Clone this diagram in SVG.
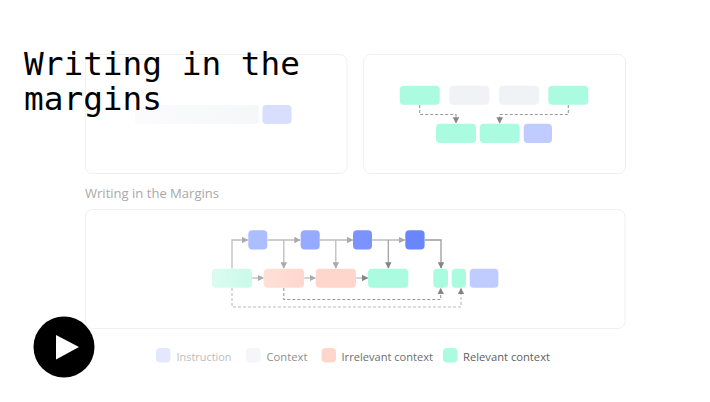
<svg xmlns="http://www.w3.org/2000/svg" width="710" height="402" viewBox="0 0 710 402">
<style>
.panel{fill:#fff;stroke:#f0f0f2;stroke-width:1}
.n{stroke:none}
.grn{fill:#abfbe0}.gry{fill:#f1f2f6}.per{fill:#c0ccff}
.c{fill:none;stroke-width:1.300}
.s{stroke:#bdbdbd}
.d{stroke:#9a9a9a;stroke-dasharray:3 2;stroke-width:1.100}
.d2{stroke:#bcbcbc;stroke-dasharray:3 2;stroke-width:1.100}
.lab{font-family:"Open Sans","Noto Sans",sans-serif;font-size:11px}
.title{font-family:"DejaVu Sans Mono","Liberation Mono",monospace;font-size:32px;fill:#000}
</style>
<defs>
<marker id="a" viewBox="0 0 8 8" refX="7" refY="4" markerWidth="6.500" markerHeight="6.500" markerUnits="userSpaceOnUse" orient="auto"><path d="M0 0L8 4L0 8Z" fill="#ababab"/></marker>
<marker id="b" viewBox="0 0 8 8" refX="7" refY="4" markerWidth="6.500" markerHeight="6.500" markerUnits="userSpaceOnUse" orient="auto"><path d="M0 0L8 4L0 8Z" fill="#858585"/></marker>
<linearGradient id="gc" x1="0" x2="1" y1="0" y2="0"><stop offset="0" stop-color="#fbfbfd"/><stop offset="1" stop-color="#f6f7f9"/></linearGradient>
<linearGradient id="g1" x1="0" x2="1" y1="0" y2="0"><stop offset="0" stop-color="#dcfbf1"/><stop offset="1" stop-color="#c9faea"/></linearGradient>
<linearGradient id="g2" x1="0" x2="1" y1="0" y2="0"><stop offset="0" stop-color="#ffe0d9"/><stop offset="1" stop-color="#ffd6cc"/></linearGradient>
</defs>
<rect width="710" height="402" fill="#fff"/>
<g id="panels">
<rect class="panel" x="85.500" y="54.500" width="261.500" height="119" rx="7"/>
<rect class="panel" x="363.500" y="54.500" width="262" height="119" rx="7"/>
<rect class="panel" x="85.500" y="209.500" width="539.500" height="119" rx="7"/>
</g>
<g id="connectors">
<path class="c d" d="M419.700 105V114.500H456V123" marker-end="url(#b)"/>
<path class="c d" d="M568.300 105V114.500H499.700V123" marker-end="url(#b)"/>
<path class="c s" d="M232 268.500V240H247.500" marker-end="url(#a)"/>
<path class="c s" d="M267.500 240H300" marker-end="url(#a)"/>
<path class="c s" d="M319.700 240H352.500" marker-end="url(#a)"/>
<path class="c s" d="M372.200 240H404.500" marker-end="url(#a)"/>
<path class="c" stroke="#9c9c9c" d="M425 240H441V268" marker-end="url(#b)"/>
<path class="c s" d="M283.800 240V268" marker-end="url(#a)"/>
<path class="c s" d="M335.800 240V268" marker-end="url(#a)"/>
<path class="c" stroke="#a4a4a4" d="M388.300 240V268" marker-end="url(#b)"/>
<path class="c s" d="M252.200 278H263.300" marker-end="url(#a)"/>
<path class="c s" d="M304.200 278H315.300" marker-end="url(#a)"/>
<path class="c s" d="M356.200 278H367.600" marker-end="url(#b)"/>
<path class="c d" d="M283.800 288V299.500H440.700V288.500" marker-end="url(#b)"/>
<path class="c d2" d="M232 288V307H461V288.500" marker-end="url(#b)"/>
</g>
<g id="n1"><rect class="n" x="135" y="105" width="124" height="19" rx="3.500" fill="url(#gc)"/></g>
<g id="n2"><rect class="n" x="262.500" y="105" width="29" height="19" rx="4" fill="#d8defd"/></g>
<g id="n3"><rect class="n grn" x="399.700" y="85.700" width="40" height="19" rx="4"/></g>
<g id="n4"><rect class="n gry" x="449.300" y="85.700" width="40" height="19" rx="4"/></g>
<g id="n5"><rect class="n gry" x="499" y="85.700" width="40" height="19" rx="4"/></g>
<g id="n6"><rect class="n grn" x="548.300" y="85.700" width="40" height="19" rx="4"/></g>
<g id="n7"><rect class="n grn" x="436" y="123.700" width="40" height="19.300" rx="4"/></g>
<g id="n8"><rect class="n grn" x="479.700" y="123.700" width="40" height="19.300" rx="4"/></g>
<g id="n9"><rect class="n per" x="523.700" y="123.700" width="28.300" height="19.300" rx="4"/></g>
<g id="n10"><rect class="n" x="248.300" y="230.200" width="19" height="19.300" rx="4" fill="#adbeff"/></g>
<g id="n11"><rect class="n" x="300.700" y="230.200" width="19" height="19.300" rx="4" fill="#96aaff"/></g>
<g id="n12"><rect class="n" x="353" y="230.200" width="19" height="19.300" rx="4" fill="#7b93ff"/></g>
<g id="n13"><rect class="n" x="405.300" y="230.200" width="19.300" height="19.300" rx="4" fill="#6a86ff"/></g>
<g id="n14"><rect class="n" x="212" y="268.700" width="40" height="19" rx="4" fill="url(#g1)"/></g>
<g id="n15"><rect class="n" x="263.700" y="268.700" width="40.300" height="19" rx="4" fill="url(#g2)"/></g>
<g id="n16"><rect class="n" x="315.700" y="268.700" width="40.300" height="19" rx="4" fill="#ffd6cc"/></g>
<g id="n17"><rect class="n grn" x="368" y="268.700" width="40.300" height="19" rx="4"/></g>
<g id="n18"><rect class="n grn" x="433.300" y="268.700" width="14.700" height="19" rx="4"/></g>
<g id="n19"><rect class="n grn" x="451.700" y="268.700" width="14.300" height="19" rx="4"/></g>
<g id="n20"><rect class="n per" x="469.700" y="268.700" width="28.700" height="19" rx="4"/></g>
<text x="85" y="197.500" class="lab" style="font-size:12.500px" fill="#a8a8a8" textLength="134" lengthAdjust="spacingAndGlyphs">Writing in the Margins</text>
<g id="legend">
<rect class="n" x="156" y="348" width="14.500" height="14.500" rx="4" fill="#e3e8fe"/>
<text x="176.500" y="360.500" class="lab" fill="#bcbcbc" textLength="55" lengthAdjust="spacingAndGlyphs">Instruction</text>
<rect class="n" x="246" y="348" width="14.500" height="14.500" rx="4" fill="#f5f6f9"/>
<text x="266.500" y="360.500" class="lab" fill="#8f8f8f" textLength="41" lengthAdjust="spacingAndGlyphs">Context</text>
<rect class="n" x="321.500" y="348" width="14.500" height="14.500" rx="4" fill="#ffd6cc"/>
<text x="341.500" y="360.500" class="lab" fill="#6e6e6e" textLength="91.500" lengthAdjust="spacingAndGlyphs">Irrelevant context</text>
<rect class="n" x="443" y="348" width="14.500" height="14.500" rx="4" fill="#abfbe0"/>
<text x="463" y="360.500" class="lab" fill="#5e5e5e" textLength="87" lengthAdjust="spacingAndGlyphs">Relevant context</text>
</g>
<g id="title">
<text class="title" x="24" y="74.500" textLength="276" lengthAdjust="spacingAndGlyphs">Writing in the</text>
<text class="title" x="24" y="110" textLength="138" lengthAdjust="spacingAndGlyphs">margins</text>
</g>
<g id="play">
<circle cx="64" cy="347" r="30.500" fill="#000"/>
<path d="M56 335L79 347L56 359.500Z" fill="#fff"/>
</g>
</svg>
